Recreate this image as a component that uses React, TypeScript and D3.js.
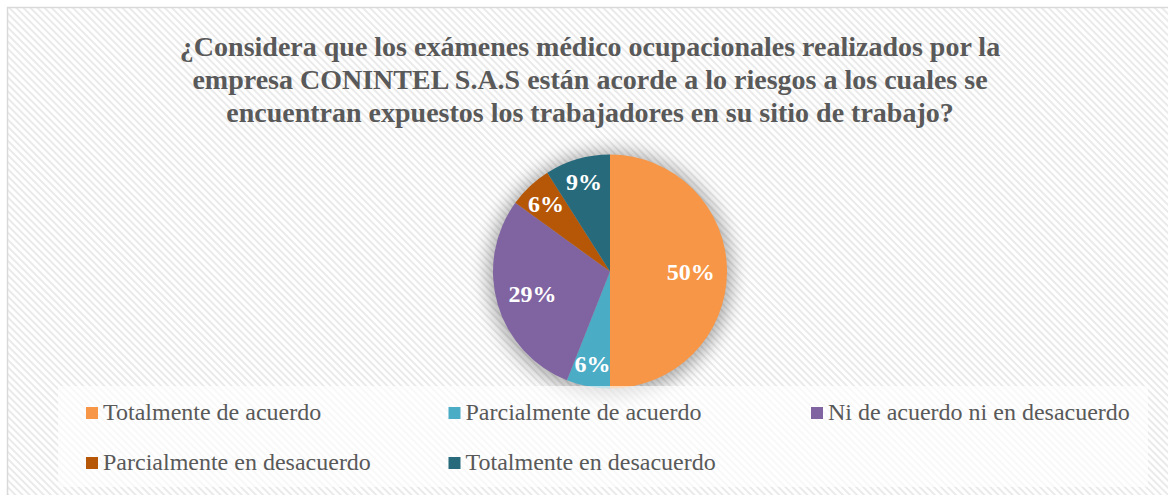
import React from "react";
import * as d3 from "d3";

const titleLines = [
  "¿Considera que los exámenes médico ocupacionales realizados por la",
  "empresa CONINTEL S.A.S están acorde a lo riesgos a los cuales se",
  "encuentran expuestos los trabajadores en su sitio de trabajo?",
];
const categories = [
  "Totalmente de acuerdo",
  "Parcialmente de acuerdo",
  "Ni de acuerdo ni en desacuerdo",
  "Parcialmente en desacuerdo",
  "Totalmente en desacuerdo",
];
const values = [50, 6, 29, 6, 9];
const colors = ["#F79646", "#4BACC6", "#8064A2", "#B65708", "#276A7C"];

const W = 1168;
const H = 495;
const CX = 610;
const CY = 271.5;
const R = 117;
const FONT = "'Liberation Serif', 'Times New Roman', serif";

export default function App() {
  const pie = d3.pie<number>().sort(null).value((d) => d)(values);
  const arc = d3.arc<d3.PieArcDatum<number>>().innerRadius(0).outerRadius(R);
  const total = d3.sum(values);

  const legendCol = d3.scalePoint<number>().domain([0, 1, 2]).range([86, 811]);
  const legendRow = d3.scalePoint<number>().domain([0, 1]).range([407, 457]);

  return (
    <svg
      width={W}
      height={H}
      style={{ position: "absolute", left: 0, top: 0, display: "block" }}
    >
      <defs>
        <pattern id="stripes" width="5" height="5" patternUnits="userSpaceOnUse" patternTransform="rotate(-45)">
          <rect width="5" height="5" fill="#ffffff" />
          <rect x="0" y="0" width="2" height="5" fill="#eaeaea" />
        </pattern>
        <filter id="glow" x="-50%" y="-50%" width="200%" height="200%">
          <feGaussianBlur stdDeviation="9" />
        </filter>
      </defs>
      <rect width={W} height={H} fill="#ffffff" />
      <rect x={7.5} y={7.5} width={1300} height={700} fill="url(#stripes)" stroke="#d9d9d9" strokeWidth={1.5} />

      {titleLines.map((t, i) => (
        <text
          key={i}
          x={590}
          y={56 + i * 33}
          textAnchor="middle"
          fontFamily={FONT}
          fontWeight="bold"
          fontSize={28}
          fill="#595959"
        >
          {t}
        </text>
      ))}

      <circle cx={CX} cy={CY + 2} r={R + 5} fill="#000" opacity={0.32} filter="url(#glow)" />
      <g transform={`translate(${CX},${CY})`}>
        {pie.map((p, i) => (
          <path key={i} d={arc(p) || ""} fill={colors[i]} />
        ))}
        {pie.map((p, i) => {
          const mid = (p.startAngle + p.endAngle) / 2;
          const lr = R * (p.value >= 20 ? 0.69 : 0.8);
          const x = Math.sin(mid) * lr;
          const y = -Math.cos(mid) * lr;
          return (
            <text
              key={"l" + i}
              x={x}
              y={y}
              dy="0.35em"
              textAnchor="middle"
              fontFamily={FONT}
              fontWeight="bold"
              fontSize={24}
              fill="#ffffff"
            >
              {Math.round((p.value / total) * 100)}%
            </text>
          );
        })}
      </g>

      <rect x={58} y={386} width={1090} height={101} fill="#ffffff" opacity={0.65} />
      {categories.map((c, i) => {
        const col = i % 3;
        const row = Math.floor(i / 3);
        const x = legendCol(col) as number;
        const y = legendRow(row) as number;
        return (
          <g key={c}>
            <rect x={x} y={y} width={12} height={12} fill={colors[i]} />
            <text x={x + 17} y={y + 13} fontFamily={FONT} fontSize={24} fill="#595959">
              {c}
            </text>
          </g>
        );
      })}
    </svg>
  );
}
